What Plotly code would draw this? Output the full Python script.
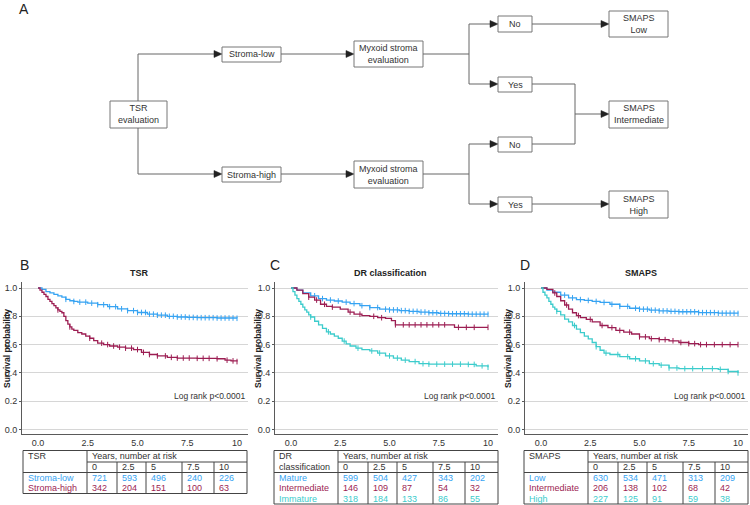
import numpy as np
import plotly.graph_objects as go

W, H = 750, 505
def X(p): return p / W
def Y(p): return 1 - p / H

FONT = "Liberation Sans, Arial, sans-serif"
BLUE = "#36a3f2"
MAROON = "#9c1d52"
TURQ = "#3ccccc"
TXT = "#333333"
GRID = "#d6d6d6"
AXIS = "#5a5a5a"
BOXLINE = "#777777"
FLOWLINE = "#666666"

# ---------------- data ----------------
x_tick_vals = [0, 2.5, 5, 7.5, 10]
x_tick_text = ["0.0", "2.5", "5.0", "7.5", "10"]
y_tick_vals = [0, 0.2, 0.4, 0.6, 0.8, 1.0]
y_tick_text = ["0.0", "0.2", "0.4", "0.6", "0.8", "1.0"]
risk_years = ["0", "2.5", "5", "7.5", "10"]

# Panel B: TSR
tsr_groups = ["Stroma-low", "Stroma-high"]
tsr_risk = [[721, 593, 496, 240, 226], [342, 204, 151, 100, 63]]
tsr_low_t = [0, 0.2, 0.4, 0.6, 0.8, 1.0, 1.2, 1.4, 1.6, 1.8, 2.0, 2.5, 3.0, 3.5, 4.0, 4.5, 5.0, 5.5, 6.0, 6.5, 7.0, 7.5, 8.0, 9.0, 10.0]
tsr_low_s = [1.0, 0.99, 0.975, 0.965, 0.955, 0.945, 0.935, 0.92, 0.91, 0.905, 0.90, 0.893, 0.882, 0.868, 0.853, 0.84, 0.827, 0.815, 0.808, 0.80, 0.795, 0.792, 0.79, 0.788, 0.786]
tsr_low_c = [1.4, 1.8, 2.1, 2.4, 2.7, 3.0, 3.3, 3.6, 3.9, 4.2, 4.5, 4.8, 5.0, 5.2, 5.4, 5.6, 5.8, 6.0, 6.2, 6.4, 6.6, 6.8, 7.0, 7.2, 7.4, 7.6, 7.8, 8.0, 8.2, 8.4, 8.6, 8.8, 9.0, 9.2, 9.4, 9.6, 9.8, 10.0]
tsr_high_t = [0, 0.1, 0.2, 0.3, 0.4, 0.5, 0.6, 0.7, 0.8, 0.9, 1.0, 1.1, 1.2, 1.3, 1.4, 1.5, 1.6, 1.7, 1.8, 2.0, 2.2, 2.4, 2.6, 2.8, 3.0, 3.3, 3.6, 4.0, 4.4, 4.8, 5.2, 5.6, 6.0, 6.5, 7.0, 8.0, 9.0, 9.4, 9.7, 10.0]
tsr_high_s = [1.0, 0.985, 0.97, 0.955, 0.94, 0.92, 0.905, 0.89, 0.875, 0.86, 0.845, 0.835, 0.825, 0.80, 0.77, 0.745, 0.725, 0.71, 0.70, 0.685, 0.675, 0.66, 0.645, 0.628, 0.61, 0.60, 0.59, 0.582, 0.575, 0.565, 0.545, 0.53, 0.52, 0.51, 0.505, 0.503, 0.50, 0.49, 0.485, 0.48]
tsr_high_c = [1.0, 1.6, 2.6, 3.2, 3.5, 3.8, 4.1, 4.4, 4.7, 5.0, 5.3, 5.6, 6.0, 6.4, 6.7, 7.0, 7.3, 7.6, 8.0, 8.3, 8.6, 9.0, 9.5, 9.8, 10.0]

# Panel C: DR classification
dr_groups = ["Mature", "Intermediate", "Immature"]
dr_risk = [[599, 504, 427, 343, 202], [146, 109, 87, 54, 32], [318, 184, 133, 86, 55]]
dr_mat_t = [0, 0.3, 0.6, 1.0, 1.4, 1.8, 2.2, 2.6, 3.0, 3.5, 4.0, 4.5, 5.0, 5.5, 6.0, 6.5, 7.0, 7.5, 8.0, 9.0, 10.0]
dr_mat_s = [1.0, 0.985, 0.965, 0.945, 0.925, 0.915, 0.908, 0.90, 0.89, 0.875, 0.862, 0.85, 0.845, 0.84, 0.835, 0.83, 0.825, 0.82, 0.818, 0.815, 0.814]
dr_mat_c = [1.2, 1.6, 2.0, 2.4, 2.8, 3.2, 3.6, 4.0, 4.4, 4.8, 5.0, 5.2, 5.4, 5.6, 5.8, 6.0, 6.2, 6.4, 6.6, 6.8, 7.0, 7.2, 7.4, 7.6, 7.8, 8.0, 8.2, 8.4, 8.6, 8.8, 9.0, 9.2, 9.4, 9.6, 9.8, 10.0]
dr_int_t = [0, 0.3, 0.6, 0.9, 1.2, 1.5, 1.8, 2.1, 2.5, 2.9, 3.2, 3.6, 4.0, 4.4, 4.8, 5.1, 5.3, 6.0, 8.0, 8.3, 10.0]
dr_int_s = [1.0, 0.985, 0.96, 0.935, 0.915, 0.885, 0.87, 0.865, 0.85, 0.83, 0.815, 0.805, 0.80, 0.79, 0.785, 0.77, 0.74, 0.74, 0.74, 0.722, 0.722]
dr_int_c = [0.9, 1.3, 1.7, 2.1, 3.0, 3.5, 4.2, 4.6, 5.3, 5.7, 6.0, 6.3, 6.6, 6.9, 7.2, 7.5, 7.8, 8.5, 8.9, 9.3, 10.0]
dr_imm_t = [0, 0.1, 0.2, 0.3, 0.4, 0.5, 0.6, 0.7, 0.8, 0.9, 1.0, 1.2, 1.4, 1.6, 1.8, 2.0, 2.2, 2.4, 2.6, 2.8, 3.0, 3.3, 3.6, 4.0, 4.4, 4.8, 5.2, 5.6, 6.0, 6.5, 7.0, 8.0, 9.0, 9.4, 10.0]
dr_imm_s = [1.0, 0.975, 0.95, 0.925, 0.905, 0.885, 0.865, 0.845, 0.83, 0.81, 0.795, 0.765, 0.74, 0.715, 0.69, 0.675, 0.66, 0.645, 0.625, 0.605, 0.59, 0.575, 0.565, 0.555, 0.54, 0.52, 0.505, 0.49, 0.48, 0.465, 0.462, 0.462, 0.46, 0.45, 0.44]
dr_imm_c = [1.0, 1.9, 2.7, 3.4, 4.1, 4.5, 5.0, 5.4, 5.8, 6.3, 6.7, 7.0, 7.4, 7.8, 8.2, 8.6, 9.0, 9.3, 9.7, 10.0]

# Panel D: SMAPS
sm_groups = ["Low", "Intermediate", "High"]
sm_risk = [[630, 534, 471, 313, 209], [206, 138, 102, 68, 42], [227, 125, 91, 59, 38]]
sm_low_t = [0, 0.3, 0.6, 1.0, 1.4, 1.8, 2.2, 2.6, 3.0, 3.5, 4.0, 4.5, 5.0, 5.5, 6.0, 6.5, 7.0, 8.0, 9.0, 10.0]
sm_low_s = [1.0, 0.985, 0.97, 0.95, 0.93, 0.918, 0.912, 0.905, 0.898, 0.885, 0.87, 0.857, 0.85, 0.843, 0.838, 0.835, 0.832, 0.826, 0.822, 0.82]
sm_low_c = [1.2, 1.6, 2.0, 2.4, 2.8, 3.2, 3.6, 4.0, 4.4, 4.8, 5.0, 5.2, 5.4, 5.6, 5.8, 6.0, 6.2, 6.4, 6.6, 6.8, 7.0, 7.2, 7.4, 7.6, 7.8, 8.0, 8.2, 8.4, 8.6, 8.8, 9.0, 9.2, 9.4, 9.6, 9.8, 10.0]
sm_int_t = [0, 0.3, 0.6, 0.8, 1.0, 1.2, 1.4, 1.6, 1.8, 2.0, 2.3, 2.6, 3.0, 3.4, 3.8, 4.2, 4.6, 5.0, 5.5, 6.0, 6.5, 7.0, 7.5, 8.0, 10.0]
sm_int_s = [1.0, 0.99, 0.965, 0.94, 0.91, 0.88, 0.85, 0.825, 0.805, 0.79, 0.778, 0.76, 0.735, 0.72, 0.70, 0.688, 0.675, 0.655, 0.642, 0.635, 0.627, 0.615, 0.607, 0.60, 0.60]
sm_int_c = [0.7, 1.3, 1.9, 2.5, 3.1, 3.6, 4.0, 4.5, 5.0, 5.3, 5.6, 6.0, 6.3, 6.7, 7.1, 7.5, 7.8, 8.1, 8.4, 8.8, 9.2, 9.6, 10.0]
sm_high_t = [0, 0.1, 0.2, 0.3, 0.4, 0.5, 0.6, 0.7, 0.8, 1.0, 1.2, 1.4, 1.6, 1.8, 2.0, 2.2, 2.4, 2.6, 2.8, 3.0, 3.2, 3.5, 4.0, 4.5, 5.0, 5.5, 6.0, 6.5, 7.0, 8.0, 9.0, 9.5, 10.0]
sm_high_s = [1.0, 0.97, 0.95, 0.93, 0.905, 0.885, 0.865, 0.85, 0.835, 0.81, 0.78, 0.76, 0.735, 0.71, 0.685, 0.66, 0.64, 0.615, 0.585, 0.56, 0.54, 0.53, 0.515, 0.50, 0.485, 0.465, 0.455, 0.435, 0.43, 0.43, 0.425, 0.41, 0.40]
sm_high_c = [0.8, 1.7, 2.8, 3.3, 3.9, 4.4, 4.8, 5.3, 5.7, 6.1, 6.5, 6.9, 7.3, 7.7, 8.2, 8.7, 9.1, 9.5, 10.0]

panels = [
    dict(letter="B", title="TSR", label=["TSR"], groups=tsr_groups, risk=tsr_risk,
         curves=[(tsr_low_t, tsr_low_s, tsr_low_c, BLUE), (tsr_high_t, tsr_high_s, tsr_high_c, MAROON)],
         off=0, plot=(22, 248), zero=38, ten=237,
         tab=(23, [87, 117, 146, 182, 214, 247])),
    dict(letter="C", title="DR classification", label=["DR", "classification"], groups=dr_groups, risk=dr_risk,
         curves=[(dr_mat_t, dr_mat_s, dr_mat_c, BLUE), (dr_int_t, dr_int_s, dr_int_c, MAROON),
                 (dr_imm_t, dr_imm_s, dr_imm_c, TURQ)],
         off=250, plot=(275, 498), zero=291, ten=488,
         tab=(274, [338, 368, 397, 433, 465, 498])),
    dict(letter="D", title="SMAPS", label=["SMAPS"], groups=sm_groups, risk=sm_risk,
         curves=[(sm_low_t, sm_low_s, sm_low_c, BLUE), (sm_int_t, sm_int_s, sm_int_c, MAROON),
                 (sm_high_t, sm_high_s, sm_high_c, TURQ)],
         off=500, plot=(525, 748), zero=541, ten=738,
         tab=(524, [588, 618, 647, 683, 715, 748])),
]
row_colors = [BLUE, MAROON, TURQ]

fig = go.Figure()
shapes = []
annotations = []

def txt(x, y, s, size=9, color=TXT, xanchor="center", yanchor="middle", bold=False, angle=0):
    annotations.append(dict(x=X(x), y=Y(y), xref="paper", yref="paper", text=("<b>%s</b>" % s) if bold else s,
                            showarrow=False, xanchor=xanchor, yanchor=yanchor, textangle=angle,
                            font=dict(family=FONT, size=size, color=color)))

def hline(x0, x1, y, color, w=1):
    shapes.append(dict(type="line", xref="paper", yref="paper", x0=X(x0), x1=X(x1), y0=Y(y), y1=Y(y),
                       line=dict(color=color, width=w)))

def vline(x, y0, y1, color, w=1):
    shapes.append(dict(type="line", xref="paper", yref="paper", x0=X(x), x1=X(x), y0=Y(y0), y1=Y(y1),
                       line=dict(color=color, width=w)))

def box(x0, x1, y0, y1, text):
    shapes.append(dict(type="rect", xref="paper", yref="paper", x0=X(x0), x1=X(x1), y0=Y(y1), y1=Y(y0),
                       line=dict(color=BOXLINE, width=1), fillcolor="white"))
    txt((x0 + x1) / 2, (y0 + y1) / 2, text, size=9)

def arrow(x0, x1, y):
    # line ending in a filled triangle touching x1
    hline(x0, x1 - 7, y, FLOWLINE)
    path = "M %f,%f L %f,%f L %f,%f Z" % (X(x1), Y(y), X(x1 - 8), Y(y - 3.5), X(x1 - 8), Y(y + 3.5))
    shapes.append(dict(type="path", xref="paper", yref="paper", path=path,
                       fillcolor="#222222", line=dict(color="#222222", width=0.5)))

# ---------------- Panel A flowchart ----------------
txt(24, 9, "A", size=14, color="#222222")
box(110, 167, 101, 128, "TSR<br>evaluation")
vline(138, 54, 101, FLOWLINE)
vline(138, 128, 174, FLOWLINE)
arrow(138, 222, 54)
arrow(138, 222, 174)
box(222, 281, 47, 62, "Stroma-low")
box(222, 281, 167, 182, "Stroma-high")
arrow(281, 354, 54)
arrow(281, 354, 174)
box(354, 423, 41, 67, "Myxoid stroma<br>evaluation")
box(354, 423, 161, 188, "Myxoid stroma<br>evaluation")
hline(423, 469, 54, FLOWLINE)
vline(469, 24, 84, FLOWLINE)
arrow(469, 498, 24)
arrow(469, 498, 84)
hline(423, 469, 174, FLOWLINE)
vline(469, 144, 204, FLOWLINE)
arrow(469, 498, 144)
arrow(469, 498, 204)
box(498, 532, 16, 32, "No")
box(498, 532, 77, 92, "Yes")
box(498, 532, 137, 152, "No")
box(498, 532, 197, 212, "Yes")
arrow(532, 609, 24)
hline(532, 575, 84, FLOWLINE)
hline(532, 575, 144, FLOWLINE)
vline(575, 84, 144, FLOWLINE)
arrow(575, 609, 114)
arrow(532, 609, 204)
box(609, 668, 11, 37, "SMAPS<br>Low")
box(609, 668, 101, 128, "SMAPS<br>Intermediate")
box(609, 668, 191, 218, "SMAPS<br>High")

# ---------------- KM panels ----------------
PT, PB = 282, 434           # plot area top/bottom pixels
V0, V1 = 429.5, 288         # pixel rows for y=0 and y=1
def vy(p): return (V0 - p) / (V0 - V1)

layout_axes = {}
for i, P in enumerate(panels):
    sfx = "" if i == 0 else str(i + 1)
    xa, ya = "x" + sfx, "y" + sfx
    pxu = (P["ten"] - P["zero"]) / 10.0
    xr = [(P["plot"][0] - P["zero"]) / pxu, (P["plot"][1] - P["zero"]) / pxu]
    layout_axes["xaxis" + sfx] = dict(domain=[X(P["plot"][0]), X(P["plot"][1])], range=xr, anchor=ya,
                                      tickvals=x_tick_vals, ticktext=x_tick_text, showgrid=False,
                                      zeroline=False, showline=True, linecolor=AXIS, linewidth=1,
                                      ticks="", tickfont=dict(family=FONT, size=9, color=TXT), fixedrange=True)
    layout_axes["yaxis" + sfx] = dict(domain=[Y(PB), Y(PT)], range=[vy(PB), vy(PT)], anchor=xa,
                                      tickvals=y_tick_vals, ticktext=y_tick_text, showgrid=True,
                                      gridcolor=GRID, gridwidth=1, zeroline=False, showline=True,
                                      linecolor=AXIS, linewidth=1, ticks="outside", ticklen=2,
                                      tickcolor=AXIS, tickfont=dict(family=FONT, size=9, color=TXT),
                                      fixedrange=True)
    for (t, s, c, col) in P["curves"]:
        fig.add_trace(go.Scatter(x=t, y=s, mode="lines", line=dict(color=col, width=1.3, shape="hv"),
                                 xaxis=xa, yaxis=ya, showlegend=False, hoverinfo="skip"))
        ta = np.array(t)
        idx = np.searchsorted(ta, np.array(c), side="right") - 1
        cy = [s[k] for k in idx]
        fig.add_trace(go.Scatter(x=c, y=cy, mode="markers",
                                 marker=dict(symbol="line-ns-open", size=4, color=col,
                                             line=dict(color=col, width=1)),
                                 xaxis=xa, yaxis=ya, showlegend=False, hoverinfo="skip"))

    o = P["off"]
    txt(o + (25 if i else 24), 265, P["letter"], size=14, color="#222222")
    txt((P["plot"][0] + P["plot"][1]) / 2 + 4, 273, P["title"], size=9, bold=True, color="#222222")
    txt(o + 7 if i == 0 else o + 8, 349, "Survival probability", size=8.5, bold=True, angle=-90, color="#222222")
    txt(P["plot"][1] - 1, 396, "Log rank p&lt;0.0001", size=8.5, xanchor="right")

    # at-risk table
    left, cols = P["tab"]
    top, yrs, head, rh = 450.5, 462, 472.5, 10.5
    n = len(P["groups"])
    bot = head + rh * n
    hline(left, cols[-1], top, "#444444")
    hline(cols[0], cols[-1], yrs, "#444444")
    hline(left, cols[-1], head, "#444444")
    hline(left, cols[-1], bot, "#444444")
    vline(left, top, bot, "#444444")
    vline(cols[0], top, bot, "#444444")
    vline(cols[-1], top, bot, "#444444")
    for cx in cols[1:-1]:
        vline(cx, yrs, bot, "#444444")
    txt(cols[0] + 3, (top + yrs) / 2, "Years, number at risk", xanchor="left")
    for k, lab in enumerate(P["label"]):
        txt(left + 3, (top + yrs) / 2 + k * 10.8, lab, xanchor="left")
    for j, yl in enumerate(risk_years):
        txt(cols[j] + 3, (yrs + head) / 2, yl, xanchor="left")
    for r, g in enumerate(P["groups"]):
        yc = head + rh * (r + 0.5)
        txt(left + 3, yc, g, xanchor="left", color=row_colors[r])
        for j, v in enumerate(P["risk"][r]):
            txt(cols[j] + 3, yc, str(v), xanchor="left", color=row_colors[r])

fig.update_layout(width=W, height=H, margin=dict(l=0, r=0, t=0, b=0),
                  paper_bgcolor="white", plot_bgcolor="white",
                  shapes=shapes, annotations=annotations, showlegend=False,
                  font=dict(family=FONT, color=TXT), **layout_axes)
fig.write_html("out.html")
